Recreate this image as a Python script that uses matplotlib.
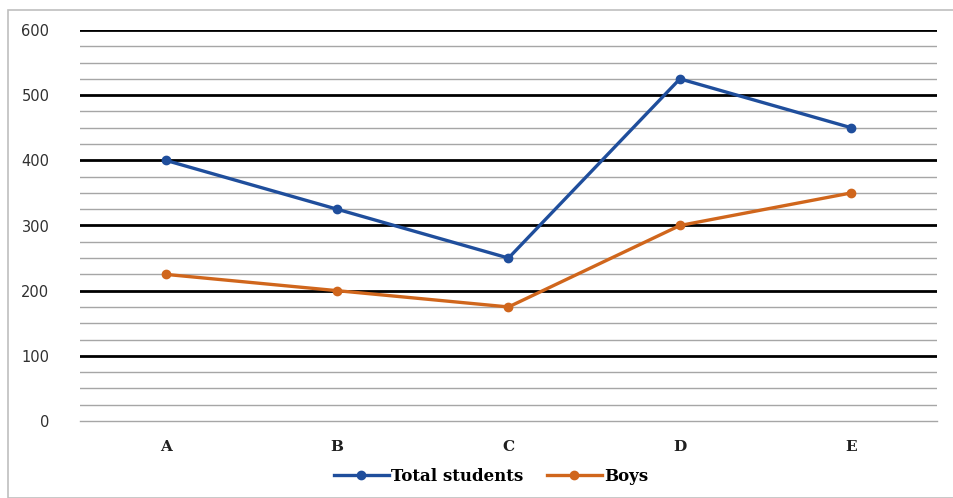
import matplotlib
matplotlib.use("Agg")
import matplotlib.pyplot as plt
from matplotlib.patches import Rectangle
from matplotlib.ticker import MultipleLocator

categories = ["A", "B", "C", "D", "E"]
total_students = [400, 325, 250, 525, 450]
boys = [225, 200, 175, 300, 350]
y_ticks = [0, 100, 200, 300, 400, 500, 600]

W, H = 954, 498
fig = plt.figure(figsize=(W / 100, H / 100), dpi=100)
ax = fig.add_axes([80 / W, 1 - 421 / H, (937 - 80) / W, (421 - 30) / H])

x = list(range(len(categories)))
ax.plot(x, total_students, color="#1F4E9C", lw=2.4, marker="o", ms=6,
        label="Total students", zorder=5)
ax.plot(x, boys, color="#D0661C", lw=2.4, marker="o", ms=6,
        label="Boys", zorder=5)

ax.set_xlim(-0.5, len(categories) - 0.5)
ax.set_ylim(0, 600)
ax.set_yticks(y_ticks)
ax.set_yticklabels([str(v) for v in y_ticks], fontsize=10.5, family="DejaVu Sans",
                   color="#303030")
ax.yaxis.set_minor_locator(MultipleLocator(25))
ax.set_xticks(x)
ax.set_xticklabels(categories, fontsize=11, family="DejaVu Serif", fontweight="bold",
                   color="#202020")
ax.tick_params(axis="both", which="both", length=0)
ax.tick_params(axis="y", pad=22)
ax.tick_params(axis="x", pad=14)

ax.grid(which="minor", axis="y", color="#A6A6A6", lw=1.0, zorder=1)
ax.grid(which="major", axis="y", color="black", lw=2.0, zorder=2)
gl0 = ax.yaxis.get_gridlines()[0]
gl0.set_color("#A6A6A6")
gl0.set_linewidth(1.0)
gl0.set_clip_on(False)
for s in ax.spines.values():
    s.set_visible(False)

leg = fig.legend(loc="center", bbox_to_anchor=(491 / W, 1 - 476 / H), ncol=2,
                 frameon=False, prop={"family": "DejaVu Serif", "weight": "bold", "size": 12},
                 handlelength=3.3, columnspacing=1.4, handletextpad=0.15)

fig.patches.append(Rectangle((8 / W, 0), 1 - 8 / W + 0.01, 1 - 10 / H,
                             transform=fig.transFigure, fill=False,
                             edgecolor="#BFBFBF", lw=1.2))

fig.savefig("out.png", dpi=100)
